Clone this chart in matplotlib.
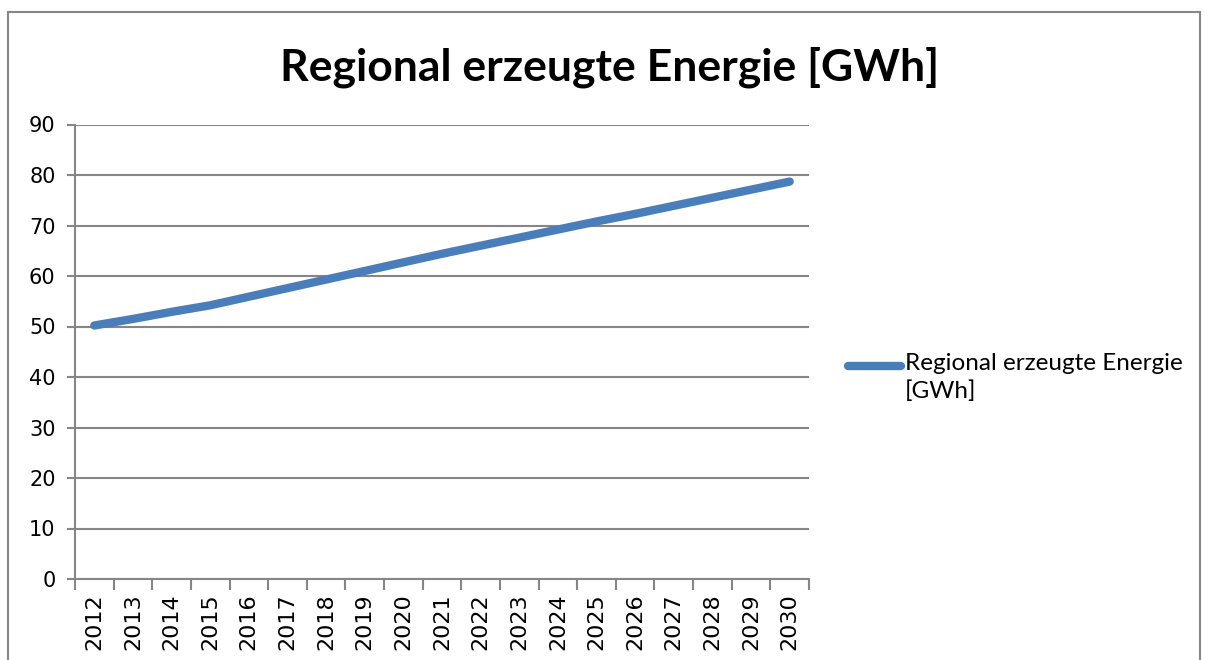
import matplotlib
matplotlib.use("Agg")
import matplotlib.pyplot as plt
from matplotlib.patches import Rectangle
from matplotlib.lines import Line2D
import numpy as np

years = [str(y) for y in range(2012, 2031)]
energy = [50.2, 51.5, 52.9, 54.2, 55.9, 57.6, 59.3, 61.0, 62.7, 64.4,
          66.0, 67.6, 69.2, 70.8, 72.3, 73.9, 75.5, 77.1, 78.7]
series_label = "Regional erzeugte Energie\n[GWh]"
title = "Regional erzeugte Energie [GWh]"

plt.rcParams['font.family'] = ['Lato', 'DejaVu Sans']
W, H = 1209, 660
fig = plt.figure(figsize=(W / 100, H / 100), dpi=100)
ax = fig.add_axes([75 / W, 1 - 579 / H, (809 - 75) / W, (579 - 124.5) / H])

grid_c = '#868686'
line_c = '#4A7EBB'
x = np.arange(len(years))
ax.plot(x, energy, color=line_c, lw=6, solid_capstyle='round',
        solid_joinstyle='round', zorder=3)

ax.set_xlim(-0.5, len(years) - 0.5)
ax.set_ylim(0, 90)
ax.set_yticks(np.arange(0, 91, 10))
ax.yaxis.grid(True, color=grid_c, lw=1.5)
ax.set_axisbelow(True)

ax.set_xticks(x)
ax.set_xticklabels(years, rotation=90, fontsize=16, family='DejaVu Sans')
ax.set_xticks(np.arange(-0.5, len(years)), minor=True)
ax.tick_params(axis='x', which='major', length=0, pad=10)
ax.tick_params(axis='x', which='minor', length=8, width=1.5, color=grid_c)
ax.tick_params(axis='y', length=6, width=1.5, color=grid_c, labelsize=15, pad=8)
for lbl in ax.get_yticklabels():
    lbl.set_family('DejaVu Sans')

for s in ['top', 'right']:
    ax.spines[s].set_visible(False)
for s in ['left', 'bottom']:
    ax.spines[s].set_color(grid_c)
    ax.spines[s].set_linewidth(1.5)

fig.text(610 / W, 1 - 67 / H, title, ha='center', va='center',
         fontsize=32, fontweight='bold')

# legend drawn by hand so the two-line label gets Excel-like spacing
fig.add_artist(Line2D([848 / W, 901 / W], [1 - 366 / H] * 2, transform=fig.transFigure,
                      color=line_c, lw=6, solid_capstyle='round'))
fig.text(905 / W, 1 - 353 / H, series_label, ha='left', va='top',
         fontsize=17.5, linespacing=1.35)

fig.add_artist(Rectangle((8 / W, -0.05), (1200 - 8) / W, 1 - 12 / H + 0.05,
                         transform=fig.transFigure, fill=False,
                         edgecolor=grid_c, lw=1.5))

fig.savefig("out.png", dpi=100)
